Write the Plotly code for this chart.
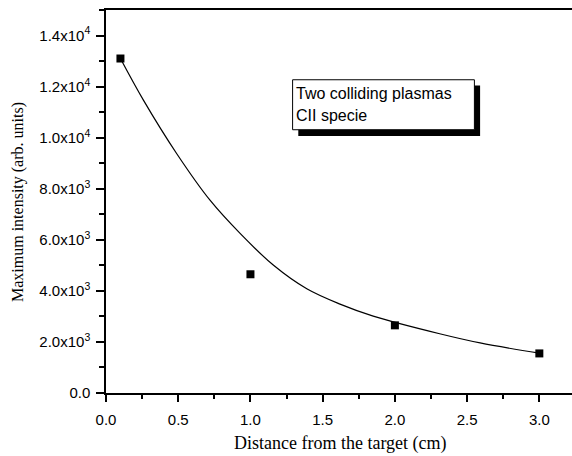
import plotly.graph_objects as go

# Measured data points
dist_cm = [0.1, 1.0, 2.0, 3.0]
max_intensity = [13100, 4650, 2650, 1550]

# Fitted curve
fit_x = [0.1, 0.26, 0.49, 0.72, 0.93, 1.16, 1.39, 1.62, 1.85, 2.31, 2.59, 3.0]
fit_y = [13100, 11460, 9370, 7550, 6240, 5000, 4080, 3480, 3010, 2320, 1960, 1560]

y_tickvals = [0, 2000, 4000, 6000, 8000, 10000, 12000, 14000]
y_ticktext = ["0.0", "2.0x10<sup>3</sup>", "4.0x10<sup>3</sup>", "6.0x10<sup>3</sup>",
              "8.0x10<sup>3</sup>", "1.0x10<sup>4</sup>", "1.2x10<sup>4</sup>", "1.4x10<sup>4</sup>"]
x_tickvals = [0.0, 0.5, 1.0, 1.5, 2.0, 2.5, 3.0]
x_ticktext = ["0.0", "0.5", "1.0", "1.5", "2.0", "2.5", "3.0"]

legend_lines = ["Two colliding plasmas", "CII specie"]
x_title = "Distance from the target (cm)"
y_title = "Maximum intensity (arb. units)"

fig = go.Figure()
fig.add_trace(go.Scatter(x=fit_x, y=fit_y, mode="lines",
                         line=dict(color="black", width=1.2, shape="spline", smoothing=1.0),
                         showlegend=False, hoverinfo="skip"))
fig.add_trace(go.Scatter(x=dist_cm, y=max_intensity, mode="markers",
                         marker=dict(symbol="square", size=8, color="black"),
                         showlegend=False))

L, T, R, B = 105.5, 9.5, 572, 392.7
W, H = R - L, B - T
def px(x): return (x - L) / W
def py(y): return (B - y) / H

# shadow then box
fig.add_shape(type="rect", xref="paper", yref="paper",
              x0=px(298), x1=px(480), y0=py(135.5), y1=py(85),
              fillcolor="black", line=dict(width=0), layer="above")
fig.add_shape(type="rect", xref="paper", yref="paper",
              x0=px(292.3), x1=px(474.3), y0=py(129.3), y1=py(79.3),
              fillcolor="white", line=dict(color="black", width=1), layer="above")
for txt, yc in zip(legend_lines, [93.5, 115.0]):
    fig.add_annotation(text=txt, xref="paper", yref="paper", x=px(293.5), y=py(yc),
                       xanchor="left", yanchor="middle", showarrow=False,
                       font=dict(family="Liberation Sans, Arial", size=16, color="black"))

serif = "Liberation Serif, Times New Roman"
fig.add_annotation(text=x_title, xref="paper", yref="paper", x=px(340), y=py(443),
                   xanchor="center", yanchor="middle", showarrow=False,
                   font=dict(family=serif, size=18, color="black"))
fig.add_annotation(text=y_title, xref="paper", yref="paper", x=px(17.5), y=py(201.5),
                   xanchor="center", yanchor="middle", showarrow=False, textangle=-90,
                   font=dict(family=serif, size=16, color="black"))

fig.update_layout(
    width=572, height=456,
    margin=dict(l=L, r=0, t=T, b=456 - B),
    plot_bgcolor="white", paper_bgcolor="white",
    font=dict(family="Liberation Sans, Arial", size=15, color="black"),
)
fig.update_xaxes(range=[0, (R - L) / 144.6], tickvals=x_tickvals, ticktext=x_ticktext,
                 automargin=False, tickfont=dict(size=15),
                 showgrid=False, zeroline=False, showline=True, linecolor="black", linewidth=1.5,
                 mirror=True, ticks="outside", ticklen=7, tickwidth=1.5, tickcolor="black",
                 ticklabelstandoff=5,
                 minor=dict(dtick=0.25, ticks="outside", ticklen=4, tickwidth=1.5, tickcolor="black"))
fig.update_yaxes(range=[0, 15000], tickvals=y_tickvals, ticktext=y_ticktext,
                 automargin=False, tickfont=dict(size=15),
                 showgrid=False, zeroline=False, showline=True, linecolor="black", linewidth=1.5,
                 mirror=False, ticks="outside", ticklen=8, tickwidth=1.5, tickcolor="black",
                 ticklabelstandoff=3,
                 minor=dict(dtick=1000, ticks="outside", ticklen=5, tickwidth=1.5, tickcolor="black"))

fig.write_html("out.html", config={"displayModeBar": False},
               post_script="document.body.style.margin='0';document.body.style.overflow='hidden';")
